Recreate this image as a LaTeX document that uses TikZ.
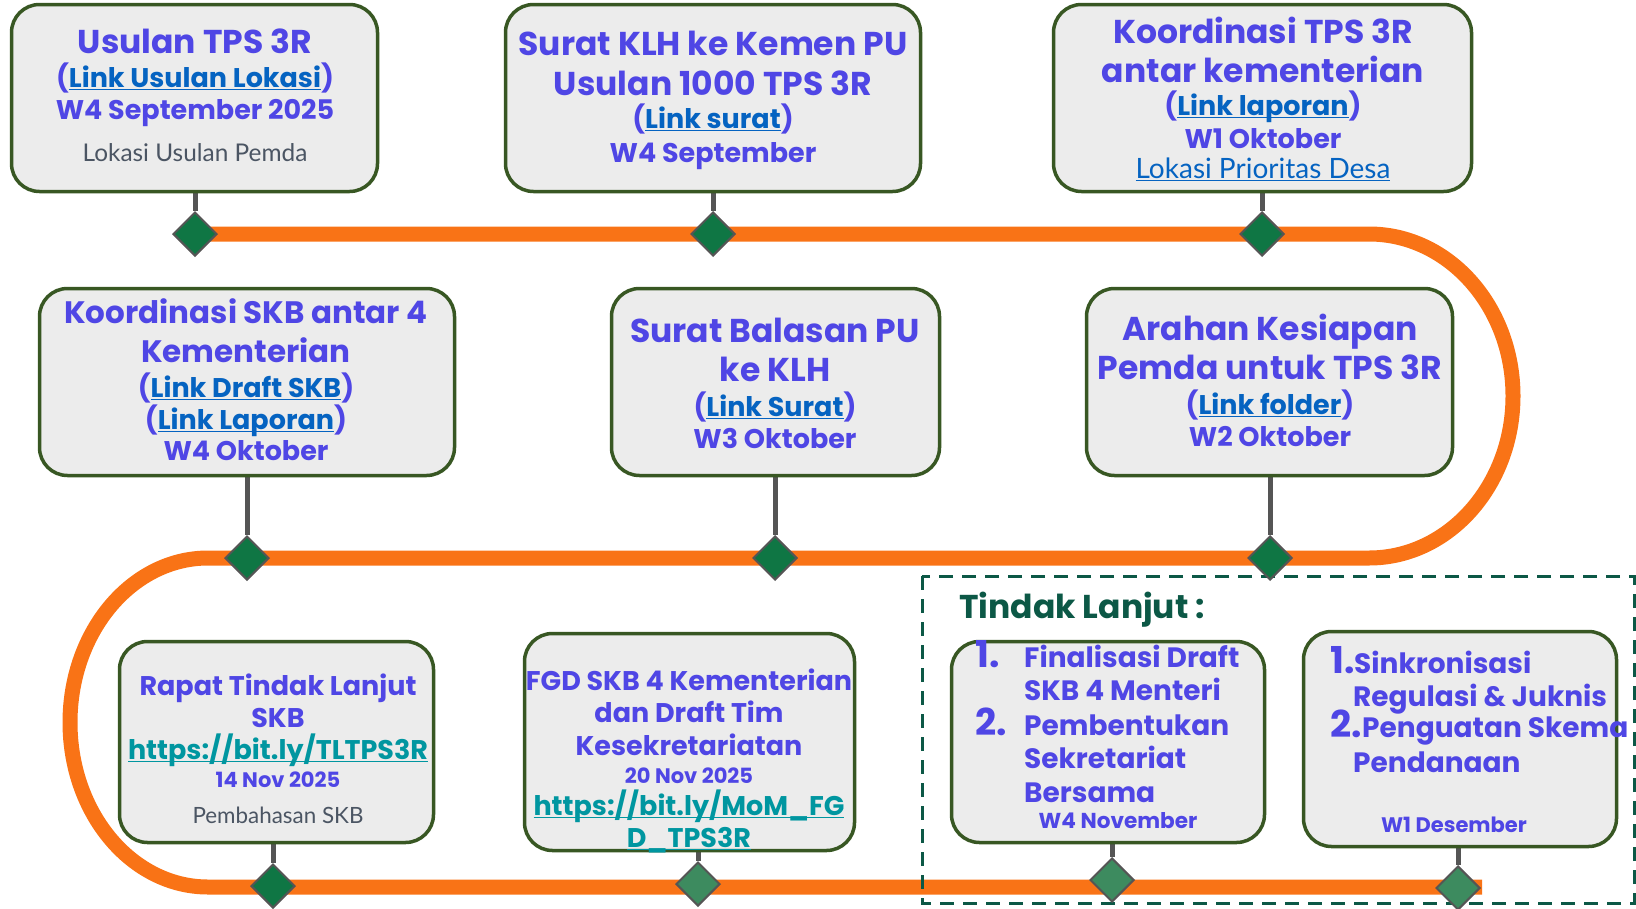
\documentclass[tikz,border=0pt]{standalone}
\usepackage{fontspec}
\setmainfont{Poppins}
\newfontfamily\latofont{Lato}
\usetikzlibrary{shapes.geometric,backgrounds}

\definecolor{ttlviolet}{RGB}{79,70,229}
\definecolor{linkblue}{RGB}{5,99,193}
\definecolor{urlteal}{RGB}{0,150,160}
\definecolor{notegrey}{RGB}{75,85,99}
\definecolor{trackorange}{RGB}{249,115,22}
\definecolor{diamgreen}{RGB}{15,118,68}
\definecolor{diamlight}{RGB}{61,139,95}
\definecolor{boxedge}{RGB}{56,87,35}
\definecolor{boxfill}{RGB}{236,236,236}
\definecolor{tindakgreen}{RGB}{12,88,70}
\definecolor{stemgrey}{RGB}{85,85,85}

\newlength{\ulw}
\newcommand{\ulbar}[1]{\settowidth{\ulw}{#1}\rlap{\rule[-3pt]{\ulw}{1.4pt}}#1}
\newcommand{\lnk}[1]{\textcolor{linkblue}{\ulbar{#1}}}
\newcommand{\urlln}[1]{\textcolor{urlteal}{\ulbar{#1}}}

\begin{document}
\begin{tikzpicture}[x=1pt,y=-1pt,
  card/.style={draw=boxedge,fill=boxfill,line width=3.5pt,rounded corners=28pt,inner sep=0pt},
  dia/.style={diamond,draw=stemgrey,line width=2pt,fill=diamgreen,minimum width=44pt,minimum height=44pt,inner sep=0pt},
  dialight/.style={dia,fill=diamlight},
  ttl/.style={anchor=base,inner sep=0pt,text=ttlviolet,font=\fontsize{33}{40}\selectfont\bfseries},
  sub/.style={anchor=base,inner sep=0pt,text=ttlviolet,font=\fontsize{27}{32}\selectfont\bfseries},
  date/.style={anchor=base,inner sep=0pt,text=ttlviolet,font=\fontsize{21}{25}\selectfont\bfseries},
  note/.style={anchor=base,inner sep=0pt,text=notegrey,font=\fontsize{24.4}{29}\selectfont\latofont},
  item/.style={anchor=base west,inner sep=0pt,text=ttlviolet,font=\fontsize{28}{33}\selectfont\bfseries},
  num/.style={anchor=base west,inner sep=0pt,text=ttlviolet,font=\fontsize{37}{44}\selectfont\bfseries},
  stem/.style={draw=stemgrey,line width=5pt},
  track/.style={draw=trackorange,line width=15pt},
  frame/.style={draw=tindakgreen,line width=3pt,dash pattern=on 14pt off 9pt}]
\useasboundingbox (0,0) rectangle (1636,908);

\node[card,minimum width=366pt,minimum height=187pt] (b1) at (194.5,98) {};
\node[card,minimum width=415pt,minimum height=187pt] (b2) at (713,98) {};
\node[card,minimum width=418pt,minimum height=187pt] (b3) at (1262.5,98) {};
\node[card,minimum width=415pt,minimum height=187pt] (b4) at (247,382) {};
\node[card,minimum width=328pt,minimum height=187pt] (b5) at (775.5,382) {};
\node[card,minimum width=366pt,minimum height=187pt] (b6) at (1269.5,382) {};
\node[card,minimum width=314pt,minimum height=201pt] (b7) at (276.5,742) {};
\node[card,minimum width=330pt,minimum height=217pt] (b8) at (689.5,742) {};
\node[card,minimum width=313pt,minimum height=201pt] (b9) at (1108,742) {};
\node[card,minimum width=313pt,minimum height=215pt] (b10) at (1460,739) {};

\node[ttl] (t1a) at (195,53) {Usulan TPS 3R};
\node[sub] (t1b) at (195,87) {(\lnk{Link Usulan Lokasi})};
\node[sub] (t1c) at (195,119) {W4 September 2025};
\node[note] (t1d) at (195,161) {Lokasi Usulan Pemda};

\node[ttl] (t2a) at (713,55) {Surat KLH ke Kemen PU};
\node[ttl] (t2b) at (713,95) {Usulan 1000 TPS 3R};
\node[sub] (t2c) at (713,128) {(\lnk{Link surat})};
\node[sub] (t2d) at (713,162) {W4 September};

\node[ttl] (t3a) at (1263,43) {Koordinasi TPS 3R};
\node[ttl] (t3b) at (1263,82) {antar kementerian};
\node[sub] (t3c) at (1263,115) {(\lnk{Link laporan})};
\node[sub] (t3d) at (1263,148) {W1 Oktober};
\node[note,text=linkblue,font=\fontsize{28}{33}\selectfont\latofont] (t3e) at (1263,178) {\ulbar{Lokasi Prioritas Desa}};

\node[ttl,font=\fontsize{31}{38}\selectfont\bfseries] (t4a) at (246,323) {Koordinasi SKB antar 4};
\node[ttl,font=\fontsize{31}{38}\selectfont\bfseries] (t4b) at (246,362) {Kementerian};
\node[sub] (t4c) at (246,397) {(\lnk{Link Draft SKB})};
\node[sub] (t4d) at (246,429) {(\lnk{Link Laporan})};
\node[sub] (t4e) at (246,460) {W4 Oktober};

\node[ttl] (t5a) at (775,342) {Surat Balasan PU};
\node[ttl] (t5b) at (775,381) {ke KLH};
\node[sub] (t5c) at (775,416) {(\lnk{Link Surat})};
\node[sub] (t5d) at (775,448) {W3 Oktober};

\node[ttl] (t6a) at (1270,340) {Arahan Kesiapan};
\node[ttl] (t6b) at (1270,379) {Pemda untuk TPS 3R};
\node[sub] (t6c) at (1270,414) {(\lnk{Link folder})};
\node[sub] (t6d) at (1270,446) {W2 Oktober};

\node[sub] (t7a) at (278,695) {Rapat Tindak Lanjut};
\node[sub] (t7b) at (278,727) {SKB};
\node[sub] (t7c) at (278,759) {\urlln{https://bit.ly/TLTPS3R}};
\node[date] (t7d) at (278,787) {14 Nov 2025};
\node[note,font=\fontsize{22.4}{27}\selectfont\latofont] (t7e) at (278,823) {Pembahasan SKB};

\node[sub] (t8a) at (689,690) {FGD SKB 4 Kementerian};
\node[sub] (t8b) at (689,722) {dan Draft Tim};
\node[sub] (t8c) at (689,755) {Kesekretariatan};
\node[date] (t8d) at (689,783) {20 Nov 2025};
\node[sub] (t8e) at (689,815) {\urlln{https://bit.ly/MoM\_FG}};
\node[sub] (t8f) at (689,847) {\urlln{D\_TPS3R}};

\node[item,text=tindakgreen,font=\fontsize{33}{40}\selectfont\bfseries] (tl) at (959,618) {Tindak Lanjut :};

\node[num] (n9a) at (975,667) {1.};
\node[item] (t9a) at (1024,667) {Finalisasi Draft};
\node[item] (t9b) at (1024,700) {SKB 4 Menteri};
\node[num] (n9b) at (975,735) {2.};
\node[item] (t9c) at (1024,735) {Pembentukan};
\node[item] (t9d) at (1024,768) {Sekretariat};
\node[item] (t9e) at (1024,802) {Bersama};
\node[date,font=\fontsize{21.6}{26}\selectfont\bfseries] (t9f) at (1118,828) {W4 November};

\node[num] (n10a) at (1330,673) {1.};
\node[item] (t10a) at (1354,673) {Sinkronisasi};
\node[item] (t10b) at (1353,706) {Regulasi \& Juknis};
\node[num] (n10b) at (1330,737) {2.};
\node[item] (t10c) at (1362,737) {Penguatan Skema};
\node[item] (t10d) at (1353,772) {Pendanaan};
\node[date] (t10e) at (1454,832) {W1 Desember};

\node[dia] (d1) at (195,234) {};
\node[dia] (d2) at (713,234) {};
\node[dia] (d3) at (1262,234) {};
\node[dia] (d4) at (247,558) {};
\node[dia] (d5) at (775,558) {};
\node[dia] (d6) at (1270,558) {};
\node[dia] (d7) at (273,886) {};
\node[dialight] (d8) at (698,884) {};
\node[dialight] (d9) at (1112,880) {};
\node[dialight] (d10) at (1458,888) {};

\begin{scope}[on background layer]
\draw[track] (d1.center) -- (1369,234)
  arc[start angle=90,end angle=-90,x radius=144pt,y radius=162pt] -- (208,558)
  arc[start angle=90,end angle=270,x radius=138pt,y radius=164.5pt] -- (1482,887);
\draw[frame] (922,576) rectangle (1634,903);
\draw[stem] (d1 |- b1.south) -- (d1);
\draw[stem] (d2 |- b2.south) -- (d2);
\draw[stem] (d3 |- b3.south) -- (d3);
\draw[stem] (d4 |- b4.south) -- (d4);
\draw[stem] (d5 |- b5.south) -- (d5);
\draw[stem] (d6 |- b6.south) -- (d6);
\draw[stem] (d7 |- b7.south) -- (d7);
\draw[stem] (d8 |- b8.south) -- (d8);
\draw[stem] (d9 |- b9.south) -- (d9);
\draw[stem] (d10 |- b10.south) -- (d10);
\end{scope}
\end{tikzpicture}
\end{document}
